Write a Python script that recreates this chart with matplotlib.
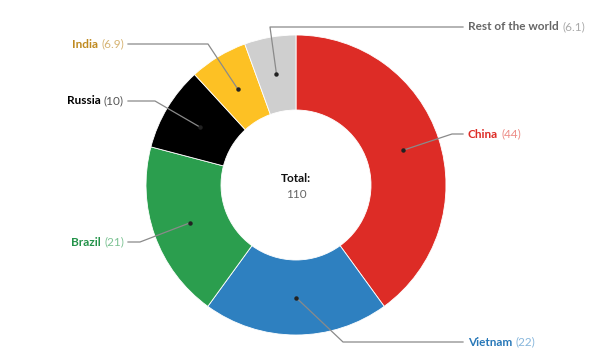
import numpy as np
import matplotlib
matplotlib.use("Agg")
import matplotlib.pyplot as plt

# Data
countries = ["China", "Vietnam", "Brazil", "Russia", "India", "Rest of the world"]
values = [44, 22, 21, 10, 6.9, 6.1]
value_labels = ["44", "22", "21", "10", "6.9", "6.1"]
total_label = "110"

colors = ["#DD2C26", "#2E80C0", "#2B9E4E", "#000000", "#FDC124", "#CFCFCF"]
name_colors = ["#DD2C26", "#2878B8", "#24934A", "#000000", "#BF8A20", "#666666"]
value_colors = ["#EC8A84", "#86B6DC", "#7DC394", "#555555", "#D6B372", "#AAAAAA"]

# label layout (elbow x, elbow y, label x, label y), in pixel-like units around the centre
layout = {
    "China": (156, 51, 172, 51),
    "Vietnam": (47, -157, 172, -157),
    "Brazil": (-156, -57, -172, -57),
    "Russia": (-141, 84, -172, 84),
    "India": (-88, 141, -172, 141),
    "Rest of the world": (-26, 158, 172, 158),
}

plt.rcParams["font.family"] = ["Lato", "DejaVu Sans"]

fig = plt.figure(figsize=(6.02, 3.55), dpi=100)
ax = fig.add_axes([0, 0, 1, 1])

outer = 150
ring = 75
wedges, _ = ax.pie(values, radius=outer, startangle=90, counterclock=False,
                   colors=colors,
                   wedgeprops=dict(width=ring, edgecolor="white", linewidth=0.6))

ax.set_xlim(-296, 306)
ax.set_ylim(-170, 185)
ax.set_aspect("equal")
ax.axis("off")

mid_r = outer - ring / 2
for w, name, val, nc, vc in zip(wedges, countries, value_labels, name_colors, value_colors):
    ang = np.deg2rad((w.theta1 + w.theta2) / 2)
    dx, dy = mid_r * np.cos(ang), mid_r * np.sin(ang)
    ex, ey, lx, ly = layout[name]
    end_x = lx - 5 if lx > 0 else lx + 4
    ax.plot([dx, ex, end_x], [dy, ey, ey], color="#8a8a8a", lw=0.9, zorder=3)
    ax.plot([dx], [dy], "o", color="#222222", ms=2.2, zorder=4)

    if lx > 0:
        t = ax.text(lx, ly, name, color=nc, fontsize=8.5, fontweight="bold",
                    ha="left", va="center")
        ax.annotate("(" + val + ")", xy=(1, 0.5), xycoords=t, xytext=(2.5, 0),
                    textcoords="offset points", color=vc, fontsize=8.5,
                    ha="left", va="center")
    else:
        t = ax.text(lx, ly, "(" + val + ")", color=vc, fontsize=8.5,
                    ha="right", va="center")
        ax.annotate(name, xy=(0, 0.5), xycoords=t, xytext=(-2.5, 0),
                    textcoords="offset points", color=nc, fontsize=8.5,
                    fontweight="bold", ha="right", va="center")

ax.text(0, 7, "Total:", fontsize=8.5, fontweight="bold", color="#111111",
        ha="center", va="center")
ax.text(0, -9, total_label, fontsize=8.5, color="#666666", ha="center", va="center")

fig.savefig("out.png", dpi=100, facecolor="white")
